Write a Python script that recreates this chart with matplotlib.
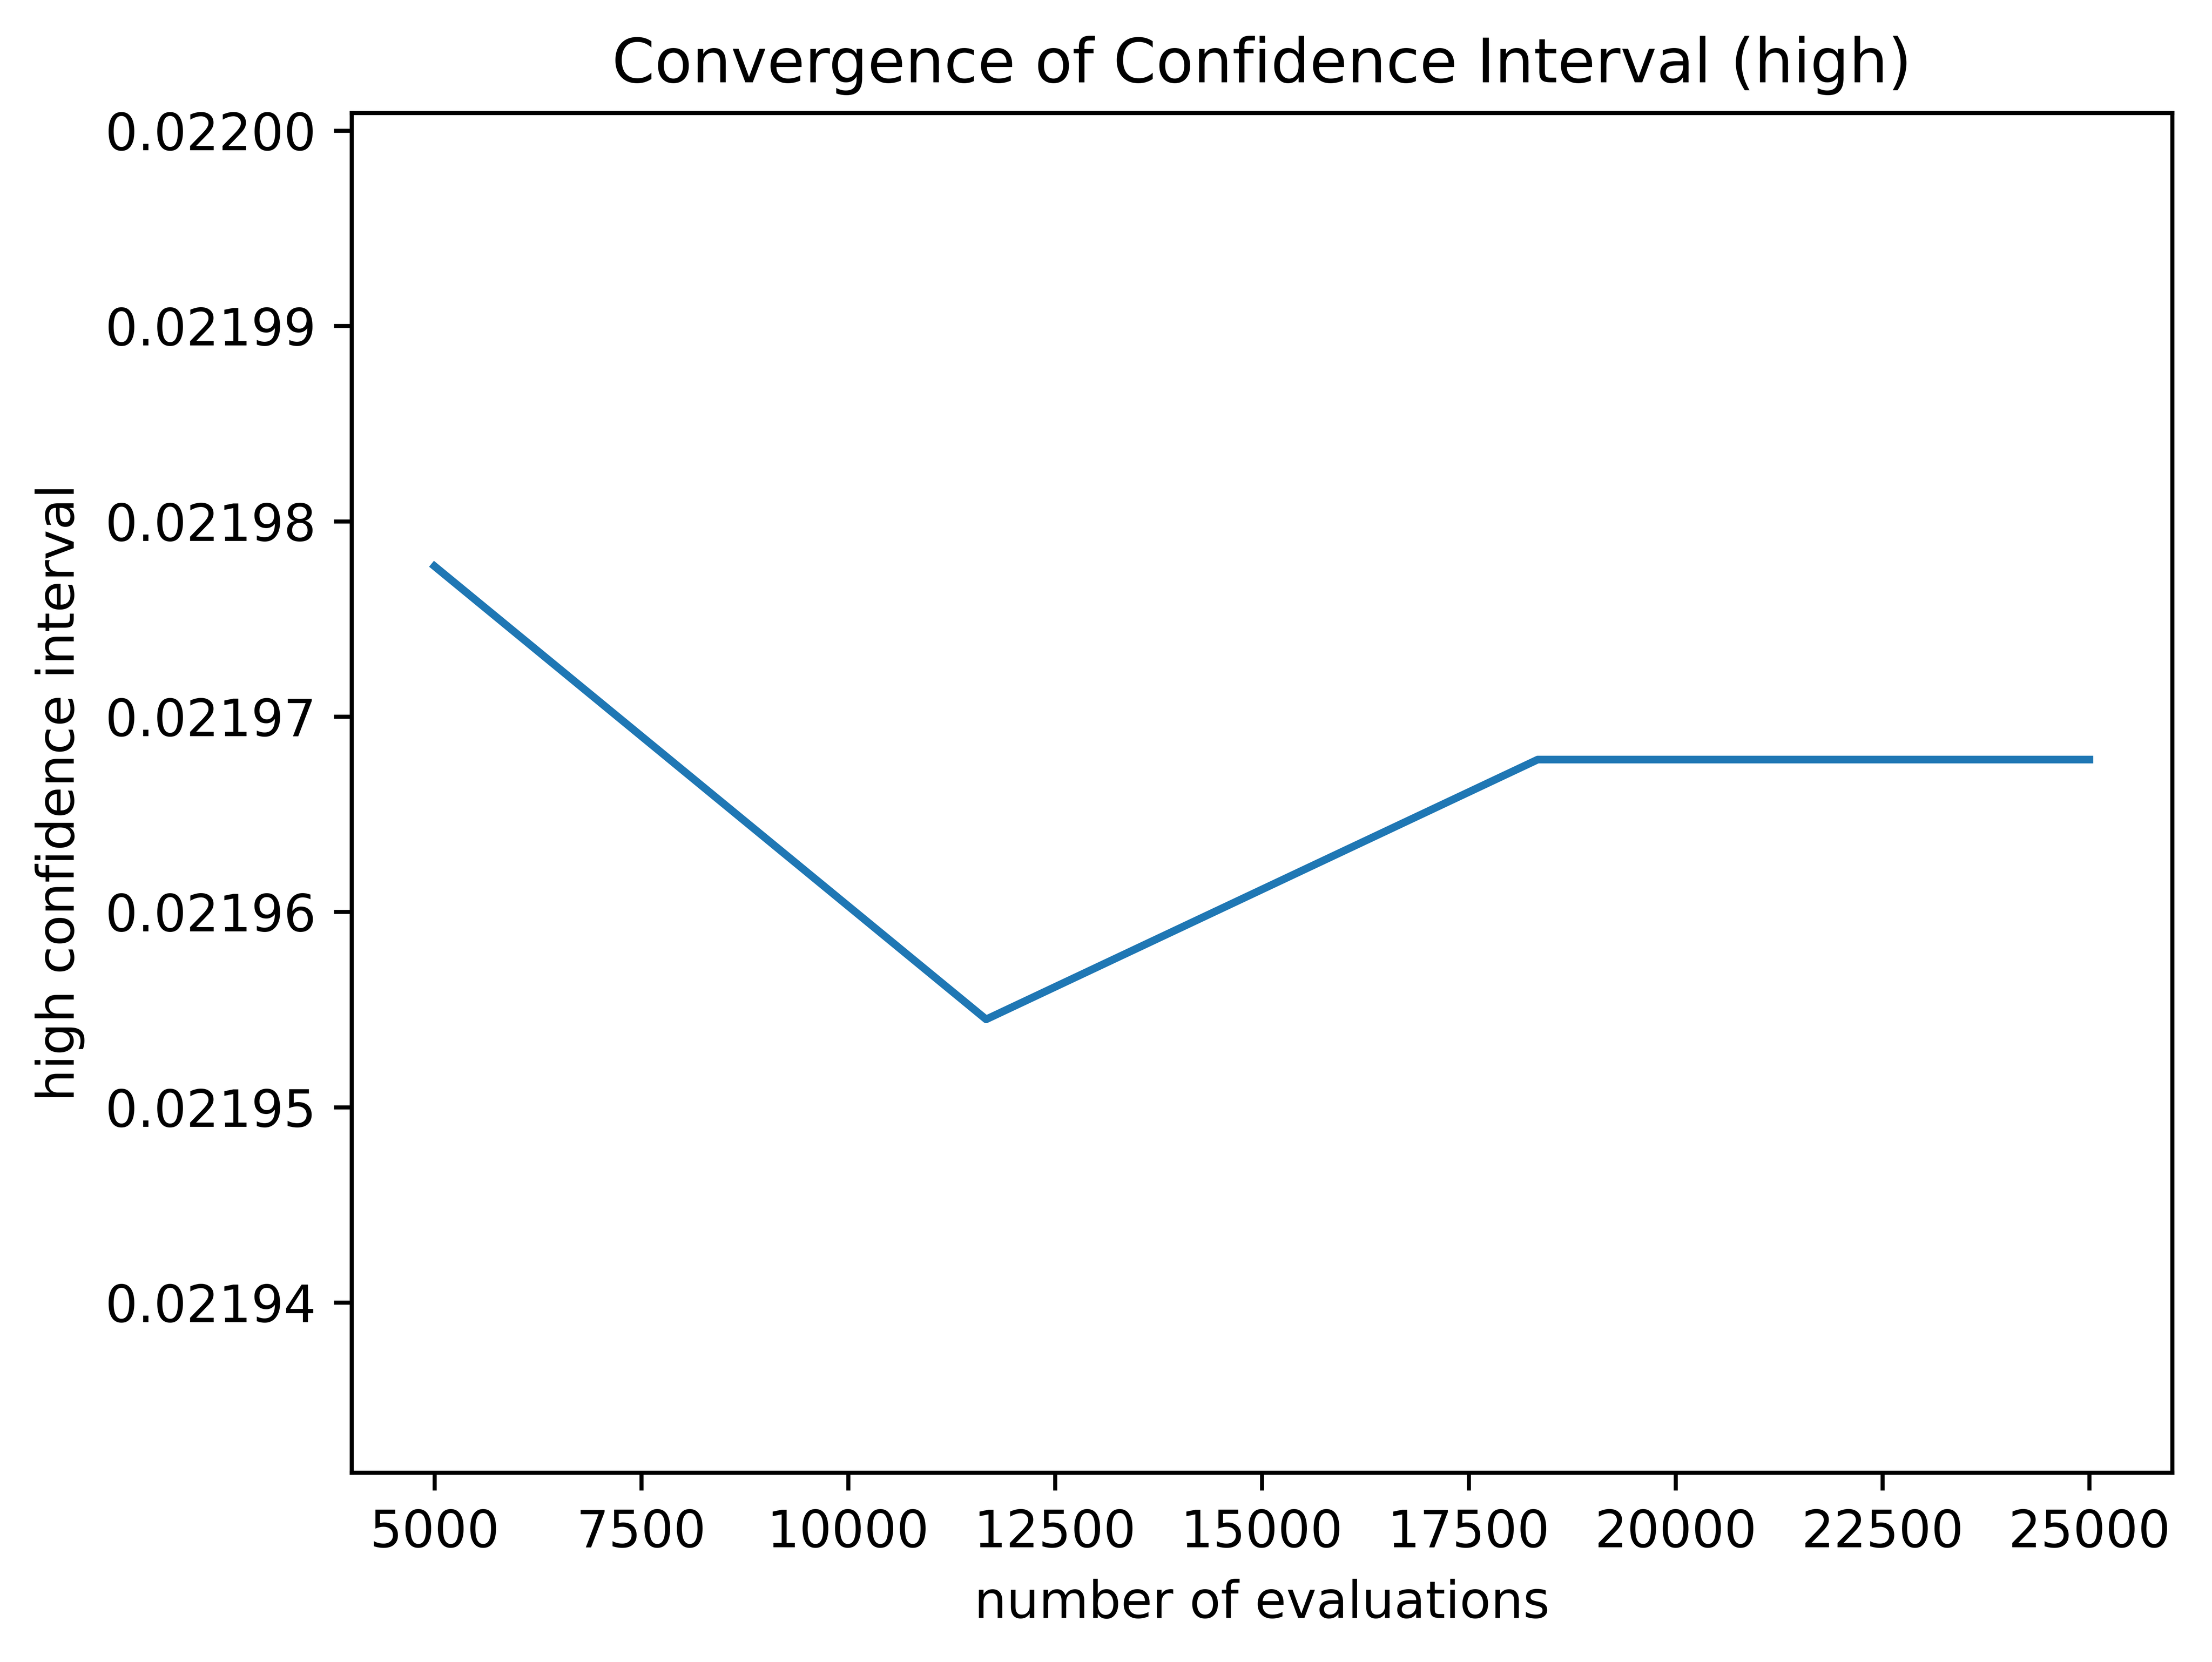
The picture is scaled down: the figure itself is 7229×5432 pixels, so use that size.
import numpy as np
import matplotlib
matplotlib.use("Agg")
from matplotlib import pyplot as plt
from matplotlib.ticker import FormatStrFormatter

# values
n_evals = [5000, 11667, 18333, 25000]
ci_high = [0.0219777, 0.0219545, 0.0219678, 0.0219678]

fig, ax = plt.subplots(figsize=(7229 / 1200, 5432 / 1200))
ax.plot(n_evals, ci_high)

ax.set_ylim(0.0219313, 0.0220009)
ax.set_yticks(np.arange(0.02194, 0.022005, 0.00001))
ax.yaxis.set_major_formatter(FormatStrFormatter('%.5f'))
ax.set_xticks(np.arange(5000, 25001, 2500))

ax.set_title("Convergence of Confidence Interval (high)")
ax.set_xlabel("number of evaluations")
ax.set_ylabel("high confidence interval")

fig.subplots_adjust(left=0.159, right=0.982, top=0.932, bottom=0.114)
fig.savefig("out.png", dpi=1200)
